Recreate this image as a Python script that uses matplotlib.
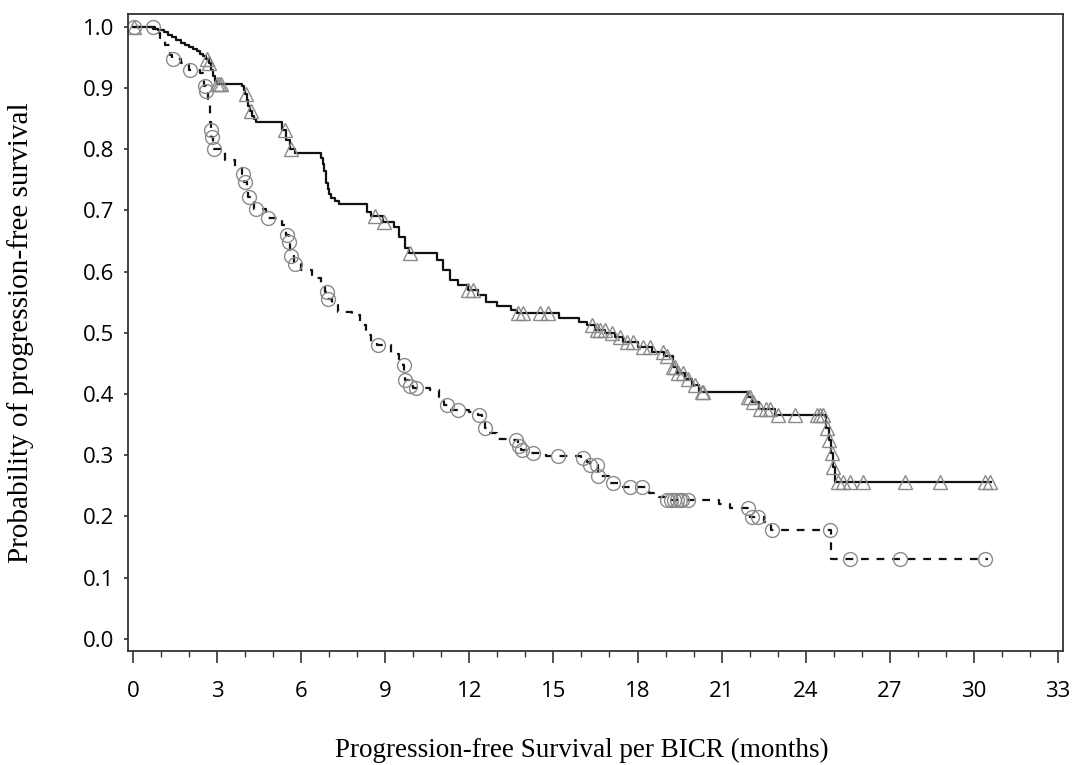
import matplotlib
matplotlib.use("Agg")
import matplotlib.pyplot as plt
from matplotlib.ticker import MultipleLocator, FormatStrFormatter
import numpy as np

# Kaplan-Meier step knots (time in months, survival after the step)
solid_t = [0, 0.3, 0.7, 0.9, 1.1, 1.25, 1.4, 1.55, 1.7, 1.85, 2.0, 2.15, 2.3, 2.4, 2.5,
           2.6, 2.7, 2.78, 2.85, 2.93, 2.99, 3.9, 3.95, 4.0, 4.06, 4.12, 4.18, 4.25, 4.33,
           4.4, 5.3, 5.46, 5.59, 5.77, 6.72, 6.78, 6.83, 6.87, 6.9, 6.94, 7.0, 7.08, 7.2,
           7.35, 8.35, 8.5, 8.93, 9.3, 9.5, 9.7, 9.85, 10.85, 11.05, 11.3, 11.6, 11.96, 12.3,
           12.6, 13.0, 13.5, 13.7, 15.2, 15.9, 16.2, 16.5, 16.85, 17.2, 17.5, 18.0, 18.5,
           18.95, 19.25, 19.4, 19.7, 19.95, 20.2, 21.95, 22.1, 22.35, 22.9, 24.72, 24.82,
           24.9, 24.96, 25.03, 30.6]
solid_s = [1.0, 0.999, 0.997, 0.995, 0.991, 0.987, 0.983, 0.978, 0.974, 0.97, 0.967, 0.964,
           0.96, 0.956, 0.952, 0.947, 0.94, 0.93, 0.92, 0.912, 0.907, 0.903, 0.897, 0.89,
           0.88, 0.87, 0.862, 0.855, 0.849, 0.844, 0.831, 0.815, 0.801, 0.794, 0.785, 0.775,
           0.765, 0.755, 0.745, 0.735, 0.727, 0.72, 0.715, 0.711, 0.698, 0.69, 0.681, 0.673,
           0.657, 0.638, 0.63, 0.619, 0.602, 0.586, 0.578, 0.57, 0.562, 0.551, 0.543, 0.537,
           0.532, 0.524, 0.518, 0.513, 0.504, 0.499, 0.493, 0.485, 0.477, 0.469, 0.462,
           0.444, 0.434, 0.425, 0.415, 0.404, 0.395, 0.387, 0.376, 0.365, 0.345, 0.325,
           0.303, 0.281, 0.256, 0.256]
solid_cens = [0.05, 2.64, 2.72, 2.99, 3.05, 3.15, 4.04, 4.2, 5.41, 5.65, 8.63, 8.97, 9.87,
              11.96, 12.14, 13.75, 13.9, 14.52, 14.82, 16.36, 16.54, 16.66, 16.84, 17.08,
              17.37, 17.61, 17.85, 18.2, 18.44, 18.92, 19.04, 19.28, 19.34, 19.46, 19.63,
              19.81, 20.05, 20.29, 20.35, 21.95, 22.0, 22.13, 22.37, 22.6, 22.72, 23.02,
              23.62, 24.39, 24.5, 24.63, 24.76, 24.85, 24.93, 24.99, 25.16, 25.34, 25.58,
              26.05, 27.54, 28.79, 30.4, 30.57]

dash_t = [0, 0.8, 0.95, 1.13, 1.31, 1.38, 1.72, 2.0, 2.38, 2.5, 2.55, 2.6, 2.68, 2.73, 2.76,
          2.77, 2.79, 2.85, 2.89, 3.27, 3.63, 3.9, 3.96, 4.05, 4.11, 4.3, 4.75, 5.3, 5.45,
          5.58, 5.6, 5.63, 5.75, 6.0, 6.4, 6.7, 6.85, 6.93, 7.1, 7.3, 7.8, 8.1, 8.3, 8.5,
          8.7, 9.2, 9.5, 9.64, 9.68, 9.7, 9.85, 10.0, 10.6, 10.9, 11.1, 11.3, 12.0, 12.3,
          12.45, 12.55, 12.68, 13.0, 13.5, 13.75, 13.85, 14.2, 14.75, 16.0, 16.2, 16.3,
          16.58, 17.0, 17.5, 18.4, 18.75, 19.0, 20.9, 21.3, 22.03, 22.5, 22.75, 24.9, 30.5]
dash_s = [1.0, 0.99, 0.981, 0.97, 0.954, 0.947, 0.94, 0.93, 0.924, 0.913, 0.904, 0.895,
          0.877, 0.861, 0.845, 0.831, 0.82, 0.81, 0.8, 0.782, 0.769, 0.76, 0.747, 0.735,
          0.722, 0.703, 0.687, 0.676, 0.66, 0.649, 0.635, 0.625, 0.613, 0.602, 0.589, 0.578,
          0.567, 0.556, 0.545, 0.534, 0.529, 0.513, 0.496, 0.485, 0.48, 0.466, 0.455, 0.447,
          0.435, 0.423, 0.413, 0.41, 0.406, 0.395, 0.382, 0.374, 0.371, 0.366, 0.355, 0.344,
          0.336, 0.327, 0.324, 0.315, 0.308, 0.303, 0.299, 0.295, 0.289, 0.284, 0.266, 0.254,
          0.248, 0.238, 0.232, 0.227, 0.221, 0.213, 0.199, 0.191, 0.178, 0.131, 0.131]
dash_cens = [0.05, 0.71, 1.43, 2.02, 2.56, 2.61, 2.77, 2.8, 2.9, 3.92, 3.98, 4.15, 4.39,
             4.83, 5.5, 5.58, 5.64, 5.78, 6.91, 6.95, 8.75, 9.66, 9.7, 9.88, 10.1, 11.19,
             11.6, 12.35, 12.56, 13.66, 13.78, 13.87, 14.26, 15.17, 16.07, 16.3, 16.54,
             16.6, 17.14, 17.73, 18.15, 19.05, 19.2, 19.3, 19.4, 19.5, 19.6, 19.8, 21.95,
             22.07, 22.31, 22.79, 24.87, 25.58, 27.36, 30.4]

xticks = np.arange(0, 34, 3)
yticks = np.arange(0, 1.01, 0.1)


def surv_at(times, surv, pts):
    idx = np.searchsorted(times, pts, side="right") - 1
    return np.asarray(surv)[idx]


fig = plt.figure(figsize=(10.92, 7.65), dpi=100)
ax = fig.add_axes([0.1172, 0.149, 0.8562, 0.8328])

ax.step(solid_t, solid_s, where="post", color="#111111", lw=1.6)
ax.step(dash_t, dash_s, where="post", color="#111111", lw=1.6, dashes=(3.5, 3.5))

ax.plot(solid_cens, surv_at(solid_t, solid_s, solid_cens), ls="none", marker="^",
        ms=10, mfc="none", mec="#8a8a8a", mew=1.0)
ax.plot(dash_cens, surv_at(dash_t, dash_s, dash_cens), ls="none", marker="o",
        ms=10, mfc="none", mec="#8a8a8a", mew=1.0)

ax.set_xlim(-0.18, 33.18)
ax.set_ylim(-0.02, 1.021)
ax.set_xticks(xticks)
ax.xaxis.set_minor_locator(MultipleLocator(1))
ax.set_yticks(yticks)
ax.yaxis.set_major_formatter(FormatStrFormatter("%.1f"))

for sp in ax.spines.values():
    sp.set_color("#333333")
    sp.set_linewidth(1.3)
ax.tick_params(axis="x", which="major", length=8.5, width=1.2, pad=13, colors="#333333",
               labelcolor="black", labelsize=16)
ax.tick_params(axis="x", which="minor", length=4.3, width=1.0, colors="#333333")
ax.tick_params(axis="y", which="major", length=3, width=1.2, pad=7, colors="#333333",
               labelcolor="black", labelsize=16)
for lab in ax.get_xticklabels() + ax.get_yticklabels():
    lab.set_family("Open Sans")

ax.set_xlabel("Progression-free Survival per BICR (months)", family="Liberation Serif",
              fontsize=19.5)
ax.xaxis.set_label_coords(0.485, -0.137)
ax.set_ylabel("Probability of progression-free survival", family="Liberation Serif",
              fontsize=21)
ax.yaxis.set_label_coords(-0.1, 0.5)

fig.savefig("out.png", dpi=100)
